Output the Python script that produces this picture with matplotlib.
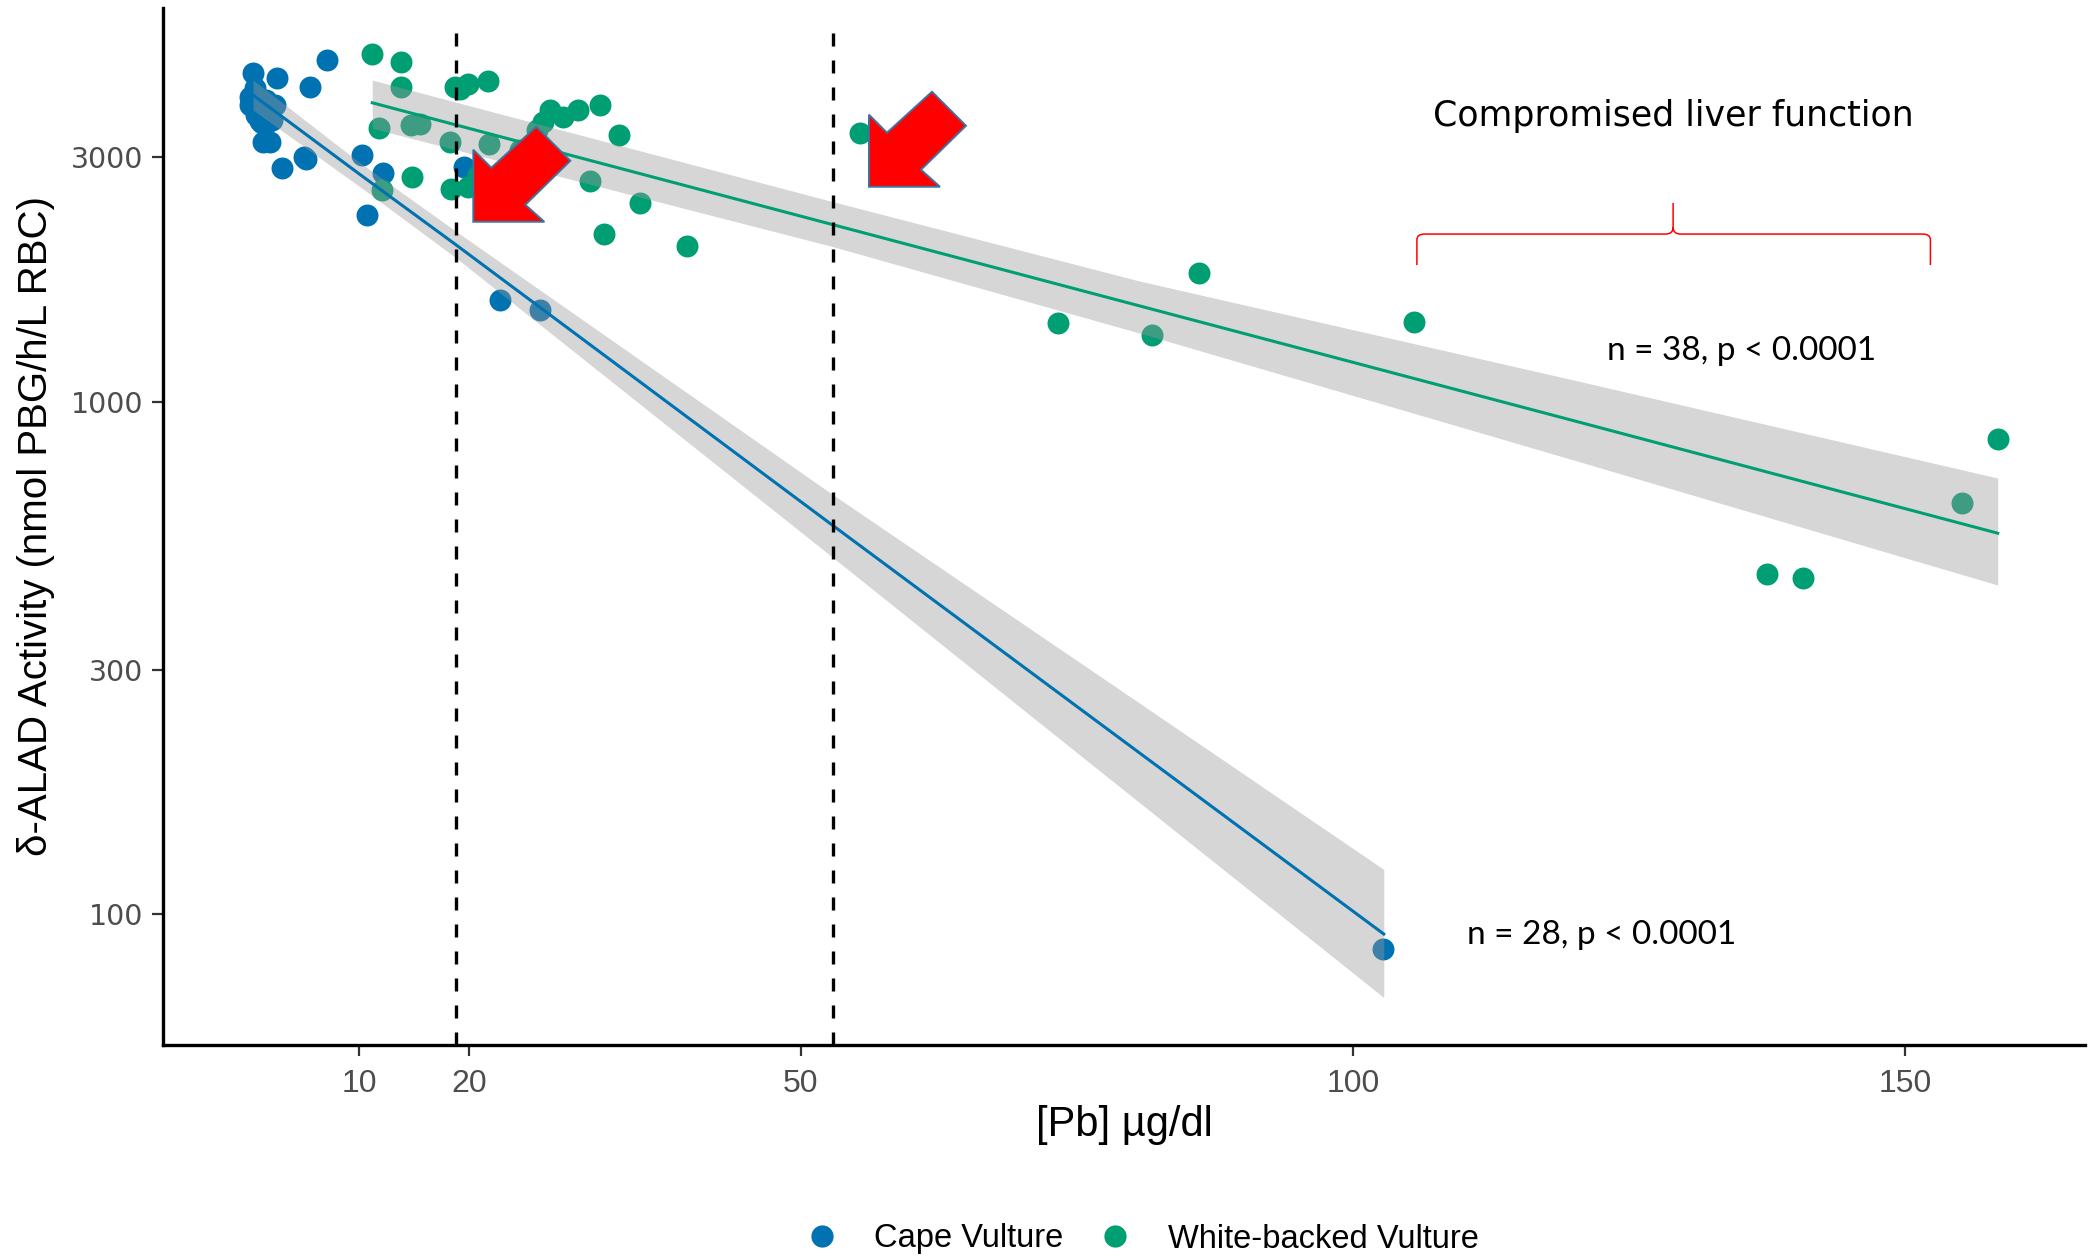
import numpy as np
import matplotlib
matplotlib.use("Agg")
import matplotlib.pyplot as plt
from matplotlib.patches import Polygon, PathPatch
from matplotlib.path import Path

# ---- values ----
CAPE_PB = [0.43, 2.57, 7.07, 5.56, 0.13, 0.67, 1.76, 1.49, 1.33, 3.02,
           4.99, 5.23, 10.24, 12.20, 10.69, 19.51, 22.77, 26.39, 102.77,
           0.85, 1.21, 2.12, 0.58, 2.39, 0.13, 1.94, 1.03, 1.58]
CAPE_ALAD = [4378, 4281, 4648, 4118, 3937, 3638, 3671, 3479, 3209, 2862,
             3012, 2976, 3032, 2793, 2316, 2877, 1580, 1511, 85.6,
             3883, 3510, 3549, 4100, 3796, 3796, 3209, 3542, 3876]

WB_PB = [11.2, 13.8, 13.8, 18.69, 19.9, 21.71, 11.81, 14.68, 18.24, 21.77,
         27.29, 29.8, 28.44, 26.63, 26.09, 33.57, 14.82, 12.05, 18.33, 19.9,
         30.92, 35.44, 32.21, 39.67, 55.39, 73.29, 81.81, 86.07, 105.5,
         137.5, 140.76, 155.16, 158.42, 20.77, 24.58, 15.52, 19.15, 31.82]
WB_ALAD = [4769, 4613, 4124, 4113, 4168, 4236, 3429, 3470, 3211, 3182,
           3712, 3712, 3594, 3523, 3394, 3318, 2751, 2591, 2603, 2630,
           2702, 2447, 2126, 2017, 3356, 1428, 1353, 1784, 1435,
           461, 453, 634.5, 847.5, 2773, 3102, 3486, 4087, 3797]

# log-linear fits with confidence band
CAPE_FIT_PB = [0.4, 10, 18.75, 52.7, 77.4, 102.8]
CAPE_FIT = [3972, 2788, 2028, 578, 232.8, 91.4]
CAPE_LO = [3713, 2638, 1913, 500.9, 187.9, 68.7]
CAPE_HI = [4249, 2939, 2155, 663.6, 288.4, 122.2]

WB_FIT_PB = [11.2, 52.7, 80.7, 120, 158.4]
WB_FIT = [3836, 2224, 1539, 918.7, 554]
WB_LO = [3420, 2015, 1362, 769.8, 438.8]
WB_HI = [4249, 2466, 1721, 1103, 710]

THRESHOLDS = [18.8, 52.9]
ARROW_TIPS = [(20.35, 2247), (56.18, 2630)]
BRACE_X = (105.8, 129.0, 152.3)   # left, middle, right
BRACE_Y = (1850, 2126, 2444)      # ends, bar, peak

BLUE, GREEN = "#0072B2", "#009E73"
W, H = 2098, 1256

plt.rcParams["font.family"] = ["Liberation Sans", "DejaVu Sans"]
fig = plt.figure(figsize=(W / 100, H / 100), dpi=100)
ax = fig.add_axes([163 / W, 1 - 1045 / H, (2085 - 163) / W, (1045 - 8) / H])
ax.set_yscale("log")
ax.set_xlim(-7.75, 166.3)
ax.set_ylim(55.5, 5874)

# points first, then ribbons on top (ggplot order)
ax.scatter(CAPE_PB, CAPE_ALAD, s=250, color=BLUE, lw=0, zorder=2)
ax.scatter(WB_PB, WB_ALAD, s=250, color=GREEN, lw=0, zorder=2)
for xs, lo, hi, fit, col in [(CAPE_FIT_PB, CAPE_LO, CAPE_HI, CAPE_FIT, BLUE),
                             (WB_FIT_PB, WB_LO, WB_HI, WB_FIT, GREEN)]:
    ax.fill_between(xs, lo, hi, color="#999999", alpha=0.4, lw=0, zorder=3)
    ax.plot(xs, fit, color=col, lw=2.2, zorder=4)

for t in THRESHOLDS:
    ax.axvline(t, ymax=0.989, color="black", lw=2.4, dashes=(3.9, 4.2), zorder=5)

# block arrows, shape in pixels relative to the tip (y downwards)
shape = np.array([(0, 0), (0, -72), (18, -54), (63, -95), (97, -61), (52, -17), (71, 0)])
for tx, ty in ARROW_TIPS:
    px, py = ax.transData.transform((tx, ty))
    verts = np.column_stack([px + shape[:, 0], py - shape[:, 1]])
    fig.patches.append(Polygon(verts, closed=True, transform=None, facecolor="#FF0000",
                               edgecolor="#41719C", lw=1.4, zorder=10))

# curly brace over the high-Pb group
xl, xm, xr = BRACE_X
yb, yr, yt = BRACE_Y
d = 0.7
verts = [(xl, yb), (xl, yr * 0.975), (xl, yr), (xl + d, yr), (xm - d, yr), (xm, yr),
         (xm, yr * 1.03), (xm, yt), (xm, yr * 1.03), (xm, yr), (xm + d, yr),
         (xr - d, yr), (xr, yr), (xr, yr * 0.975), (xr, yb)]
codes = [Path.MOVETO, Path.LINETO, Path.CURVE3, Path.CURVE3, Path.LINETO, Path.CURVE3,
         Path.CURVE3, Path.LINETO, Path.MOVETO, Path.CURVE3, Path.CURVE3,
         Path.LINETO, Path.CURVE3, Path.CURVE3, Path.LINETO]
ax.add_patch(PathPatch(Path(verts, codes), fill=False, edgecolor="#FF0000", lw=1.1, zorder=6))

ax.text(129.0, 3614, "Compromised liver function", ha="center", va="center",
        fontsize=25, family=["DejaVu Sans"])
ax.text(135.2, 1259, "n = 38, p < 0.0001", ha="center", va="center",
        fontsize=24, family=["Lato", "DejaVu Sans"])
ax.text(122.5, 91.0, "n = 28, p < 0.0001", ha="center", va="center",
        fontsize=24, family=["Lato", "DejaVu Sans"])

ax.set_xticks([10, 20, 50, 100, 150])
ax.set_yticks([100, 300, 1000, 3000])
ax.set_yticklabels(["100", "300", "1000", "3000"], family="DejaVu Sans")
ax.yaxis.set_minor_locator(matplotlib.ticker.NullLocator())
ax.tick_params(axis="both", colors="#333333", labelcolor="#4d4d4d", length=8, width=1.6)
ax.tick_params(axis="x", pad=9, labelsize=23)
ax.tick_params(axis="y", pad=6, labelsize=20.5)
for s in ["top", "right"]:
    ax.spines[s].set_visible(False)
for s in ["left", "bottom"]:
    ax.spines[s].set_linewidth(2.4)

ax.set_xlabel("[Pb] µg/dl", fontsize=30)
ax.xaxis.set_label_coords(0.5, -0.058)
ax.xaxis.label.set_va("top")
ax.set_ylabel("δ-ALAD Activity (nmol PBG/h/L RBC)", fontsize=29)
ax.yaxis.set_label_coords(-0.056, 0.5)

handles = [plt.Line2D([], [], ls="", marker="o", ms=15, color=c) for c in (BLUE, GREEN)]
fig.legend(handles, ["Cape Vulture", "White-backed Vulture"], loc="center",
           bbox_to_anchor=(1142 / W, 1 - 1239 / H), ncol=2, frameon=False,
           fontsize=23.5, handlelength=1.0, handletextpad=1.1, columnspacing=1.1)

fig.savefig("out.png", dpi=100, facecolor="white")
